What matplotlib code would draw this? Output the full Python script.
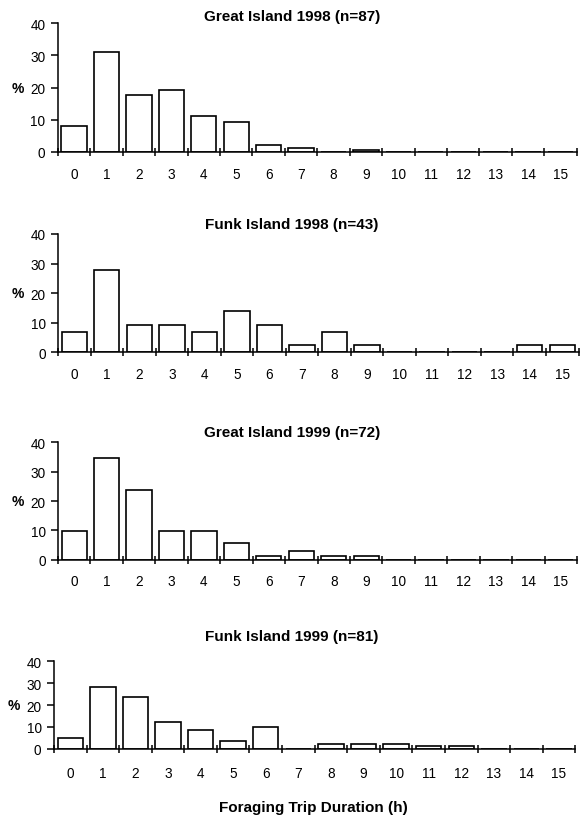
import matplotlib
matplotlib.use("Agg")
import matplotlib.pyplot as plt
import numpy as np

plt.rcParams['font.family'] = ['Liberation Sans', 'DejaVu Sans']

hours = list(range(16))
hour_labels = [str(h) for h in hours]

great_1998 = [8.0, 31.0, 17.7, 19.4, 11.3, 9.2, 2.3, 1.2, 0, 0.5, 0, 0, 0, 0, 0, 0]
funk_1998 = [7.0, 27.9, 9.3, 9.3, 7.0, 14.0, 9.3, 2.3, 7.0, 2.3, 0, 0, 0, 0, 2.3, 2.3]
great_1999 = [9.7, 34.7, 23.6, 9.7, 9.7, 5.6, 1.4, 2.8, 1.4, 1.4, 0, 0, 0, 0, 0, 0]
funk_1999 = [4.9, 28.4, 23.5, 12.3, 8.6, 3.7, 9.9, 0, 2.5, 2.5, 2.5, 1.2, 1.2, 0, 0, 0]

titles = ["Great Island 1998 (n=87)", "Funk Island 1998 (n=43)",
          "Great Island 1999 (n=72)", "Funk Island 1999 (n=81)"]
series = [great_1998, funk_1998, great_1999, funk_1999]
y_ticks = [0, 10, 20, 30, 40]

W, H = 582, 820
fig = plt.figure(figsize=(W / 100, H / 100), dpi=100)

# panel geometry in pixels: left, right, y of 0, y of 40, title y, label pad
panels = [
    (57.8, 576.7, 153.0, 24.3, 17, 10.5),
    (58.0, 578.5, 353.3, 235.0, 225, 10.5),
    (58.0, 577.0, 560.7, 443.3, 433, 10.5),
    (54.0, 575.3, 750.0, 662.0, 637, 12.0),
]

for (l, r, y0, y40, ty, pad), vals, title in zip(panels, series, titles):
    ax = fig.add_axes([l / W, 1 - y0 / H, (r - l) / W, (y0 - y40) / H])
    ax.bar(hours, vals, width=0.78, color='white', edgecolor='black',
           linewidth=1.2, zorder=3)
    ax.set_xlim(-0.5, 15.5)
    ax.set_ylim(0, 40)
    ax.set_yticks(y_ticks)
    ax.set_xticks(np.arange(-0.5, 16, 1))
    ax.set_xticklabels([])
    ax.set_xticks(hours, minor=True)
    ax.set_xticklabels(hour_labels, minor=True, fontsize=9.8)
    ax.tick_params(axis='x', which='major', direction='inout', length=6,
                   width=1.1, color='black')
    ax.tick_params(axis='x', which='minor', length=0, pad=pad)
    ax.tick_params(axis='y', direction='out', length=5, width=1.1,
                   labelsize=9.8, pad=4)
    for s in ['top', 'right']:
        ax.spines[s].set_visible(False)
    for s in ['left', 'bottom']:
        ax.spines[s].set_linewidth(1.1)
        ax.spines[s].set_zorder(4)
    ax.annotate('%', xy=(0, 20), xycoords=ax.get_yaxis_transform(),
                xytext=(-40 * 0.72, 0), textcoords='offset points',
                ha='center', va='center', fontweight='bold', fontsize=10)
    fig.text(292 / W, 1 - ty / H, title, ha='center', va='center',
             fontweight='bold', fontsize=11)

fig.text(313 / W, 1 - 808 / H, "Foraging Trip Duration (h)", ha='center',
         va='center', fontweight='bold', fontsize=11)

fig.savefig("out.png", dpi=100)
